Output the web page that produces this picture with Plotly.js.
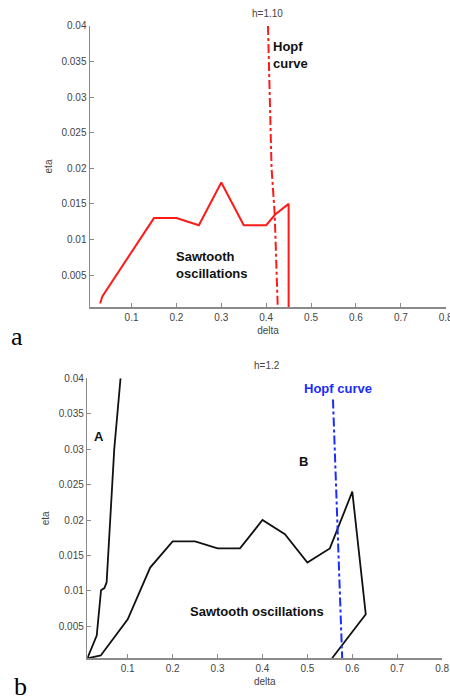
<!DOCTYPE html>
<html>
<head>
<meta charset="utf-8">
<script src="https://cdn.plot.ly/plotly-3.0.1.min.js"></script>
<style>html,body{margin:0;padding:0;background:#fff;}#chart{width:450px;height:700px;}</style>
</head>
<body>
<div id="chart"></div>
<script>
// Panel a (h=1.10)
const sawDeltaA = [0.03, 0.035, 0.15, 0.2, 0.25, 0.3, 0.35, 0.4, 0.42, 0.45, 0.45];
const sawEtaA   = [0.001, 0.002, 0.013, 0.013, 0.012, 0.018, 0.012, 0.012, 0.0135, 0.015, 0];
const hopfDeltaA = [0.404, 0.412, 0.419, 0.426];
const hopfEtaA   = [0.04, 0.02, 0.0135, 0];

// Panel b (h=1.2)
const curveADeltaB = [0.01, 0.031, 0.0406, 0.048, 0.053, 0.057, 0.061, 0.07, 0.084];
const curveAEtaB   = [0.0005, 0.0037, 0.0101, 0.0104, 0.0112, 0.015, 0.02, 0.03, 0.04];
const sawDeltaB = [0.01, 0.04, 0.1, 0.15, 0.2, 0.25, 0.3, 0.35, 0.4, 0.45, 0.5, 0.55, 0.6, 0.63, 0.555];
const sawEtaB   = [0.0005, 0.0009, 0.006, 0.0133, 0.017, 0.017, 0.016, 0.016, 0.02, 0.018, 0.014, 0.016, 0.024, 0.0067, 0.0005];
const hopfDeltaB = [0.557, 0.5668, 0.5775];
const hopfEtaB   = [0.037, 0.02, 0.0005];

const xTicks = [0.1, 0.2, 0.3, 0.4, 0.5, 0.6, 0.7, 0.8];
const xTickText = ['0.1', '0.2', '0.3', '0.4', '0.5', '0.6', '0.7', '0.8'];
const yTicks = [0.005, 0.01, 0.015, 0.02, 0.025, 0.03, 0.035, 0.04];
const yTickText = ['0.005', '0.01', '0.015', '0.02', '0.025', '0.03', '0.035', '0.04'];

const F = 'Liberation Sans, Arial, sans-serif';
const axisGrey = '#8a8a8a';
const tickGrey = '#444';

const traces = [
  {x: sawDeltaA, y: sawEtaA, xaxis: 'x', yaxis: 'y', mode: 'lines', line: {color: '#ff1a1a', width: 2}, showlegend: false},
  {x: hopfDeltaA, y: hopfEtaA, xaxis: 'x', yaxis: 'y', mode: 'lines', line: {color: '#ff1a1a', width: 2, dash: 'dashdot'}, showlegend: false},
  {x: curveADeltaB, y: curveAEtaB, xaxis: 'x2', yaxis: 'y2', mode: 'lines', line: {color: '#111', width: 1.8}, showlegend: false},
  {x: sawDeltaB, y: sawEtaB, xaxis: 'x2', yaxis: 'y2', mode: 'lines', line: {color: '#111', width: 1.8}, showlegend: false},
  {x: hopfDeltaB, y: hopfEtaB, xaxis: 'x2', yaxis: 'y2', mode: 'lines', line: {color: '#1a2cff', width: 2, dash: 'dashdot'}, showlegend: false}
];

function xax(domain, range, anchor) {
  return {
    domain: domain, range: range, anchor: anchor,
    showline: true, linecolor: axisGrey, linewidth: 1.5, mirror: false,
    showgrid: false, zeroline: false,
    ticks: 'inside', ticklen: 4, tickcolor: axisGrey, tickwidth: 1,
    tickvals: xTicks, ticktext: xTickText, ticklabeloverflow: 'allow',
    tickfont: {family: F, size: 10, color: tickGrey},
    title: {text: 'delta', font: {family: F, size: 10, color: tickGrey}, standoff: 5}
  };
}
function yax(domain, range, anchor) {
  return {
    domain: domain, range: range, anchor: anchor,
    showline: true, linecolor: axisGrey, linewidth: 1.5, mirror: false,
    showgrid: false, zeroline: false,
    ticks: 'inside', ticklen: 4, tickcolor: axisGrey, tickwidth: 1,
    tickvals: yTicks, ticktext: yTickText,
    tickfont: {family: F, size: 10, color: tickGrey},
    title: {text: 'eta', font: {family: F, size: 10, color: tickGrey}, standoff: 7}
  };
}

const bold = {family: F, size: 13, color: '#111'};

const layout = {
  width: 450, height: 700,
  margin: {l: 0, r: 0, t: 0, b: 0},
  paper_bgcolor: '#fff', plot_bgcolor: '#fff',
  showlegend: false,
  xaxis: xax([0.2, 0.991], [0.0075, 0.8005], 'y'),
  yaxis: yax([0.5614, 0.9629], [0.0005, 0.04], 'x'),
  xaxis2: xax([0.194, 0.983], [0.01, 0.8005], 'y2'),
  yaxis2: yax([0.0596, 0.4596], [0.0005, 0.04], 'x2'),
  annotations: [
    {text: 'h=1.10', xref: 'paper', yref: 'paper', x: 0.595, y: 1 - 13/700, showarrow: false, font: {family: F, size: 10, color: tickGrey}, xanchor: 'center', yanchor: 'middle'},
    {text: 'h=1.2', xref: 'paper', yref: 'paper', x: 0.593, y: 1 - 365/700, showarrow: false, font: {family: F, size: 10, color: tickGrey}, xanchor: 'center', yanchor: 'middle'},
    {text: '<b>Hopf<br>curve</b>', xref: 'x', yref: 'y', x: 0.41, y: 0.0359, showarrow: false, font: bold, xanchor: 'left', yanchor: 'middle', align: 'left'},
    {text: '<b>Sawtooth<br>oscillations</b>', xref: 'x', yref: 'y', x: 0.194, y: 0.00645, showarrow: false, font: bold, xanchor: 'left', yanchor: 'middle', align: 'left'},
    {text: '<b>A</b>', xref: 'x2', yref: 'y2', x: 0.036, y: 0.0318, showarrow: false, font: bold, xanchor: 'center', yanchor: 'middle'},
    {text: '<b>B</b>', xref: 'x2', yref: 'y2', x: 0.4907, y: 0.0283, showarrow: false, font: bold, xanchor: 'center', yanchor: 'middle'},
    {text: '<b>Hopf curve</b>', xref: 'x2', yref: 'y2', x: 0.487, y: 0.0385, showarrow: false, font: {family: F, size: 13, color: '#1a2cff'}, xanchor: 'left', yanchor: 'middle'},
    {text: '<b>Sawtooth oscillations</b>', xref: 'x2', yref: 'y2', x: 0.235, y: 0.0071, showarrow: false, font: bold, xanchor: 'left', yanchor: 'middle'},
    {text: 'a', xref: 'paper', yref: 'paper', x: 17/450, y: 1 - 336/700, showarrow: false, font: {family: 'Liberation Serif, Times New Roman, serif', size: 26, color: '#000'}, xanchor: 'center', yanchor: 'middle'},
    {text: 'b', xref: 'paper', yref: 'paper', x: 20/450, y: 1 - 686/700, showarrow: false, font: {family: 'Liberation Serif, Times New Roman, serif', size: 26, color: '#000'}, xanchor: 'center', yanchor: 'middle'}
  ]
};

Plotly.newPlot('chart', traces, layout, {staticPlot: true, displayModeBar: false});
</script>
</body>
</html>
